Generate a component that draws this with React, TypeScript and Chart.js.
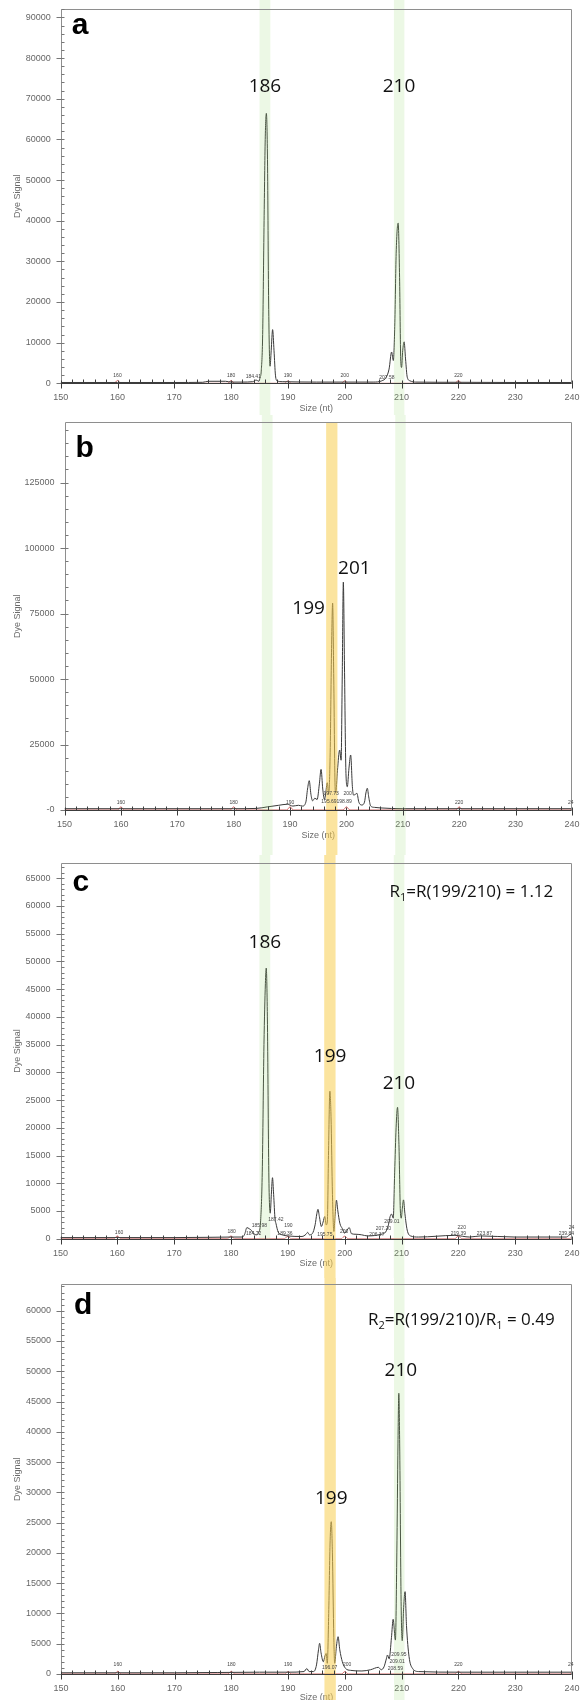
import React, { useEffect, useRef } from 'react';
import { Chart, registerables } from 'chart.js';

Chart.register(...registerables);

// ---------------- shared axis values ----------------
const sizeMin = 150;
const sizeMax = 240;
const sizeLabelStep = 10;
const sizeMinorStep = 2;

// highlighted size windows (nt)
const greenBand1 = [185.0, 186.9];
const yellowBand = [196.4, 198.4];
const greenBand2 = [208.65, 210.5];

// size-standard (red) trace positions
const stdSize = [150, 159.4, 160, 160.6, 179.4, 180, 180.6, 189.4, 190, 190.6, 199.4, 200, 200.6, 219.4, 220, 220.6, 239.5, 240];

// ---------------- panel a ----------------
const aSize = [150, 160, 170, 175, 176, 179, 180, 182, 183.8, 184.4, 184.9, 185.1, 185.3, 185.55, 185.8, 186.0, 186.2, 186.4, 186.6, 186.85, 187.05, 187.3, 187.55, 187.8, 188.1, 189, 195, 200, 205, 206.5, 207.3, 207.8, 208.25, 208.55, 208.8, 209.05, 209.4, 209.65, 209.85, 210.0, 210.2, 210.45, 210.7, 211.0, 211.5, 212.5, 220, 230, 240];
const aSignal = [200, 200, 200, 250, 500, 500, 300, 300, 400, 800, 500, 1500, 3000, 12000, 40000, 60000, 66400, 55000, 20000, 4200, 8000, 13200, 8000, 2000, 600, 400, 300, 300, 300, 600, 1500, 3500, 7700, 5600, 14000, 32000, 39400, 26000, 6000, 3900, 8000, 10200, 6000, 1500, 600, 300, 250, 200, 200];
const aStdSignal = [0, 0, 700, 0, 0, 700, 0, 0, 600, 0, 0, 600, 0, 0, 700, 0, 0, 300];
const aYMax = 92000;
const aYStep = 10000;
const aYMinor = 2000;
const aPeakText = ['186', '210'];
const aPeakSize = [185.95, 209.55];
const aPeakSignal = [73000, 73000];
const aTinyText = ['160', '180', '184.41', '190', '200', '207.58', '220'];
const aTinySize = [160, 180, 183.9, 190, 200, 207.4, 220];
const aTinySignal = [1800, 1800, 1600, 1800, 1800, 1300, 1800];

// ---------------- panel b ----------------
const bSize = [150, 160, 180, 184, 186, 188, 189.5, 190.5, 191.5, 192.2, 192.8, 193.1, 193.4, 193.7, 194.0, 194.4, 194.8, 195.2, 195.5, 195.8, 196.1, 196.3, 196.6, 196.85, 197.1, 197.35, 197.55, 197.75, 198.0, 198.1, 198.4, 198.8, 199.05, 199.25, 199.45, 199.65, 199.9, 200.15, 200.45, 200.75, 201.05, 201.25, 201.6, 201.85, 202.2, 202.7, 203.2, 203.45, 203.7, 203.95, 204.3, 205, 206, 210, 220, 240];
const bSignal = [500, 500, 500, 600, 1200, 1800, 2200, 1500, 1800, 1500, 3000, 8000, 11200, 6000, 3500, 4500, 4000, 10000, 15500, 8000, 4000, 6000, 10400, 6000, 20000, 60000, 79000, 50000, 8000, 6400, 15000, 22900, 19000, 50000, 87000, 55000, 15000, 8900, 16000, 21000, 9000, 5700, 6000, 6400, 3000, 1900, 3000, 6500, 8300, 5000, 1500, 1000, 800, 500, 500, 500];
const bStdSignal = [0, 0, 1200, 0, 0, 1200, 0, 0, 1200, 0, 0, 1200, 0, 0, 1200, 0, 0, 600];
const bYMax = 148000;
const bYStep = 25000;
const bYMinor = 5000;
const bPeakText = ['199', '201'];
const bPeakSize = [193.3, 201.4];
const bPeakSignal = [76800, 92000];
const bTinyText = ['160', '180', '190', '197.73', '200', '195.69', '198.89', '220', '24'];
const bTinySize = [160, 180, 190, 197.3, 200.2, 196.9, 199.6, 220, 239.8];
const bTinySignal = [3000, 3000, 3000, 6100, 6100, 3200, 3200, 3000, 3000];

// ---------------- panel c ----------------
const cSize = [150, 160, 170, 176, 180, 182, 182.4, 182.8, 183.2, 183.6, 184.0, 184.5, 184.9, 185.2, 185.5, 185.8, 186.05, 186.2, 186.4, 186.65, 186.9, 187.1, 187.3, 187.5, 187.75, 187.9, 188.3, 189, 190, 192.5, 193.2, 193.5, 193.8, 194.3, 194.8, 195.1, 195.3, 195.55, 195.9, 196.2, 196.5, 196.75, 196.95, 197.15, 197.4, 197.6, 197.85, 198.1, 198.3, 198.55, 198.8, 199.15, 199.6, 200.0, 200.8, 201.2, 202, 203, 204, 206.4, 207.2, 207.7, 208.0, 208.25, 208.55, 208.8, 209.05, 209.3, 209.55, 209.8, 209.95, 210.15, 210.35, 210.6, 211.0, 211.6, 213, 219.4, 222, 223.9, 230, 239, 239.8, 240];
const cSignal = [200, 200, 200, 250, 300, 300, 800, 2000, 1800, 1500, 900, 700, 1200, 3000, 12000, 35000, 46000, 48800, 40000, 12000, 4600, 8000, 11000, 8000, 3500, 2800, 1200, 700, 500, 400, 800, 1150, 700, 900, 2500, 4500, 5300, 4000, 2200, 3000, 4000, 2500, 3000, 15000, 26600, 22000, 8000, 1300, 4000, 6950, 5000, 2800, 1800, 1000, 2000, 900, 800, 700, 500, 800, 1200, 2500, 4000, 4450, 3700, 12000, 20000, 23700, 17000, 5000, 3700, 5500, 7000, 4500, 1560, 500, 300, 600, 300, 500, 300, 300, 800, 500];
const cStdSignal = [0, 0, 500, 0, 0, 500, 0, 0, 450, 0, 0, 450, 0, 0, 500, 0, 0, 300];
const cYMax = 67700;
const cYStep = 5000;
const cYMinor = 1000;
const cPeakText = ['186', '199', '210'];
const cPeakSize = [185.95, 197.43, 209.55];
const cPeakSignal = [53400, 32770, 27950];
const cTinyText = ['160', '180', '184.72', '185.98', '187.42', '189.36', '190', '195.75', '200', '206.37', '207.20', '209.01', '219.39', '220', '223.87', '239.84', '24'];
const cTinySize = [160.3, 180.1, 184.0, 185.0, 187.9, 189.5, 190.1, 196.5, 199.9, 205.65, 206.8, 208.3, 220.0, 220.6, 224.6, 239.0, 239.9];
const cTinySignal = [1150, 1260, 1000, 2290, 3500, 970, 2290, 700, 1260, 700, 1900, 3070, 850, 2050, 850, 850, 2050];

// ---------------- panel d ----------------
const dSize = [150, 170, 185, 190, 192.8, 193.3, 193.7, 194.5, 195.0, 195.35, 195.55, 195.8, 196.2, 196.5, 196.7, 196.9, 197.15, 197.4, 197.6, 197.8, 198.05, 198.2, 198.5, 198.8, 199.1, 199.55, 200.1, 201, 203, 204.5, 205.9, 206.4, 206.9, 207.3, 207.5, 207.8, 208.2, 208.5, 208.9, 209.15, 209.35, 209.5, 209.65, 209.9, 210.1, 210.35, 210.6, 210.85, 211.3, 211.9, 213, 220, 230, 240];
const dSignal = [200, 200, 300, 300, 400, 900, 400, 400, 1500, 4000, 5070, 3500, 2030, 3000, 3400, 1770, 10000, 22000, 25150, 20000, 6000, 1770, 4500, 6160, 4000, 2030, 940, 600, 500, 700, 1100, 700, 1200, 2500, 3140, 2500, 6000, 9030, 5600, 20000, 38000, 46360, 38000, 12000, 5500, 11000, 13600, 8000, 2860, 940, 400, 300, 300, 300];
const dStdSignal = [0, 0, 450, 0, 0, 450, 0, 0, 400, 0, 0, 400, 0, 0, 450, 0, 0, 300];
const dYMax = 64360;
const dYStep = 5000;
const dYMinor = 1000;
const dPeakText = ['199', '210'];
const dPeakSize = [197.6, 209.85];
const dPeakSignal = [28900, 50120];
const dTinyText = ['160', '180', '190', '196.07', '200', '208.59', '209.01', '209.95', '220', '24'];
const dTinySize = [160, 180, 190, 197.3, 200.4, 208.9, 209.2, 209.5, 220, 239.8];
const dTinySignal = [1490, 1490, 1490, 1040, 1490, 940, 2030, 3140, 1490, 1490];

// ratio annotations
const cFormulaParts = ['R', '1', '=R(199/210) = 1.12'];
const cFormulaSub = [false, true, false];
const cFormulaAt = [222.3, 62760];
const dFormulaParts = ['R', '2', '=R(199/210)/R', '1', ' = 0.49'];
const dFormulaSub = [false, true, false, true, false];
const dFormulaAt = [220.5, 58630];

// ---------------- styling / layout ----------------
const GREEN = 'rgba(150,215,110,0.18)';
const YELLOW = 'rgba(247,205,80,0.55)';
const FONT = '"Liberation Sans", Arial, sans-serif';
const LABEL_FONT = '"Open Sans", "Noto Sans", sans-serif';

type Band = { range: number[]; color: string; from: 'top' | 'area'; to: 'bottom' | 'axis' };

type Panel = {
  letter: string;
  size: number[];
  signal: number[];
  stdSignal: number[];
  yMax: number;
  yStep: number;
  yMinor: number;
  zeroLabel: string;
  peakText: string[];
  peakSize: number[];
  peakSignal: number[];
  tinyText: string[];
  tinySize: number[];
  tinySignal: number[];
  formulaParts?: string[];
  formulaSub?: boolean[];
  formulaAt?: number[];
  bands: Band[];
  top: number;
  height: number;
  left: number;
  right: number;
  areaTop: number;
  areaBottom: number;
  letterDx: number;
  letterDy: number;
  xTitlePad: number;
};

const panels: Panel[] = [
  {
    letter: 'a', size: aSize, signal: aSignal, stdSignal: aStdSignal, yMax: aYMax, yStep: aYStep, yMinor: aYMinor, zeroLabel: '0',
    peakText: aPeakText, peakSize: aPeakSize, peakSignal: aPeakSignal,
    tinyText: aTinyText, tinySize: aTinySize, tinySignal: aTinySignal,
    bands: [
      { range: greenBand1, color: GREEN, from: 'top', to: 'bottom' },
      { range: greenBand2, color: GREEN, from: 'top', to: 'bottom' },
    ],
    top: 0, height: 415, left: 60.7, right: 572, areaTop: 9.3, areaBottom: 383.3, letterDx: 11, letterDy: 25, xTitlePad: 1.1,
  },
  {
    letter: 'b', size: bSize, signal: bSignal, stdSignal: bStdSignal, yMax: bYMax, yStep: bYStep, yMinor: bYMinor, zeroLabel: '-0',
    peakText: bPeakText, peakSize: bPeakSize, peakSignal: bPeakSignal,
    tinyText: bTinyText, tinySize: bTinySize, tinySignal: bTinySignal,
    bands: [
      { range: greenBand1, color: GREEN, from: 'top', to: 'bottom' },
      { range: yellowBand, color: YELLOW, from: 'area', to: 'bottom' },
      { range: greenBand2, color: GREEN, from: 'top', to: 'bottom' },
    ],
    top: 415, height: 440, left: 64.5, right: 572, areaTop: 7.3, areaBottom: 395, letterDx: 11, letterDy: 35, xTitlePad: 13.9,
  },
  {
    letter: 'c', size: cSize, signal: cSignal, stdSignal: cStdSignal, yMax: cYMax, yStep: cYStep, yMinor: cYMinor, zeroLabel: '0',
    peakText: cPeakText, peakSize: cPeakSize, peakSignal: cPeakSignal,
    tinyText: cTinyText, tinySize: cTinySize, tinySignal: cTinySignal,
    formulaParts: cFormulaParts, formulaSub: cFormulaSub, formulaAt: cFormulaAt,
    bands: [
      { range: greenBand1, color: GREEN, from: 'top', to: 'axis' },
      { range: yellowBand, color: YELLOW, from: 'top', to: 'bottom' },
      { range: greenBand2, color: GREEN, from: 'top', to: 'bottom' },
    ],
    top: 855, height: 423, left: 60.5, right: 572, areaTop: 8.3, areaBottom: 383.7, letterDx: 12, letterDy: 28, xTitlePad: 8.6,
  },
  {
    letter: 'd', size: dSize, signal: dSignal, stdSignal: dStdSignal, yMax: dYMax, yStep: dYStep, yMinor: dYMinor, zeroLabel: '0',
    peakText: dPeakText, peakSize: dPeakSize, peakSignal: dPeakSignal,
    tinyText: dTinyText, tinySize: dTinySize, tinySignal: dTinySignal,
    formulaParts: dFormulaParts, formulaSub: dFormulaSub, formulaAt: dFormulaAt,
    bands: [
      { range: yellowBand, color: YELLOW, from: 'top', to: 'bottom' },
      { range: greenBand2, color: GREEN, from: 'top', to: 'bottom' },
    ],
    top: 1278, height: 422, left: 61, right: 572, areaTop: 6.3, areaBottom: 396, letterDx: 13, letterDy: 30, xTitlePad: -3.4,
  },
];

function drawRich(ctx: CanvasRenderingContext2D, parts: string[], subs: boolean[], cx: number, cy: number, size: number) {
  const base = `${size}px ${LABEL_FONT}`;
  const sub = `${Math.round(size * 0.62)}px ${LABEL_FONT}`;
  const widths = parts.map((t, i) => {
    ctx.font = subs[i] ? sub : base;
    return ctx.measureText(t).width;
  });
  const total = widths.reduce((s, w) => s + w, 0);
  let x = cx - total / 2;
  const baseline = cy + size * 0.36;
  ctx.textAlign = 'left';
  ctx.textBaseline = 'alphabetic';
  parts.forEach((t, i) => {
    ctx.font = subs[i] ? sub : base;
    ctx.fillText(t, x, subs[i] ? baseline + size * 0.22 : baseline);
    x += widths[i];
  });
}

function makeDecor(p: Panel) {
  return {
    id: 'decor_' + p.letter,
    afterDatasetsDraw(chart: any) {
      const ctx: CanvasRenderingContext2D = chart.ctx;
      const xs = chart.scales.x;
      const area = chart.chartArea;
      ctx.save();
      for (const b of p.bands) {
        const x0 = xs.getPixelForValue(b.range[0]);
        const x1 = xs.getPixelForValue(b.range[1]);
        const y0 = b.from === 'area' ? area.top : 0;
        const y1 = b.to === 'axis' ? area.bottom : chart.height;
        ctx.fillStyle = b.color;
        ctx.fillRect(x0, y0, x1 - x0, y1 - y0);
      }
      ctx.restore();
    },
    afterDraw(chart: any) {
      const ctx: CanvasRenderingContext2D = chart.ctx;
      const xs = chart.scales.x;
      const ys = chart.scales.y;
      const { left, right, top, bottom } = chart.chartArea;
      const L = Math.round(left) + 0.5;
      const R = Math.round(right) - 0.5;
      const T = Math.round(top) + 0.5;
      const B = Math.round(bottom) + 0.5;
      ctx.save();
      // frame
      ctx.lineWidth = 1;
      ctx.strokeStyle = '#8e8e8e';
      ctx.beginPath();
      ctx.moveTo(L, T); ctx.lineTo(R, T); ctx.lineTo(R, B);
      ctx.moveTo(L, T); ctx.lineTo(L, B);
      ctx.stroke();
      // y ticks
      ctx.strokeStyle = '#777';
      ctx.beginPath();
      for (let v = 0; v <= p.yMax + 1; v += p.yMinor) {
        const y = Math.round(ys.getPixelForValue(v)) + 0.5;
        if (v % p.yStep === 0) { ctx.moveTo(L - 5, y); ctx.lineTo(L + 3, y); }
        else { ctx.moveTo(L, y); ctx.lineTo(L + 3, y); }
      }
      ctx.stroke();
      // x axis line and ticks
      ctx.strokeStyle = '#3c3c3c';
      ctx.beginPath();
      ctx.moveTo(L, B); ctx.lineTo(R, B);
      for (let v = sizeMin; v <= sizeMax; v += sizeMinorStep) {
        const x = Math.round(xs.getPixelForValue(v)) + 0.5;
        if (v % sizeLabelStep === 0) { ctx.moveTo(x, B - 3); ctx.lineTo(x, B + 5); }
        else { ctx.moveTo(x, B); ctx.lineTo(x, B - 4); }
      }
      ctx.stroke();
      // tiny peak-size labels
      ctx.fillStyle = '#444';
      ctx.font = `5px ${FONT}`;
      ctx.textAlign = 'center';
      ctx.textBaseline = 'middle';
      p.tinyText.forEach((t, i) => {
        ctx.fillText(t, xs.getPixelForValue(p.tinySize[i]), ys.getPixelForValue(p.tinySignal[i]));
      });
      // peak labels
      ctx.fillStyle = '#111';
      ctx.font = `19px ${LABEL_FONT}`;
      p.peakText.forEach((t, i) => {
        ctx.fillText(t, xs.getPixelForValue(p.peakSize[i]), ys.getPixelForValue(p.peakSignal[i]));
      });
      // ratio formula
      if (p.formulaParts && p.formulaSub && p.formulaAt) {
        drawRich(ctx, p.formulaParts, p.formulaSub, xs.getPixelForValue(p.formulaAt[0]), ys.getPixelForValue(p.formulaAt[1]), 17);
      }
      // panel letter
      ctx.fillStyle = '#000';
      ctx.font = `bold 30px ${FONT}`;
      ctx.textAlign = 'left';
      ctx.textBaseline = 'alphabetic';
      ctx.fillText(p.letter, left + p.letterDx, top + p.letterDy);
      ctx.restore();
    },
  };
}

function buildChart(canvas: HTMLCanvasElement, p: Panel) {
  return new Chart(canvas, {
    type: 'line',
    data: {
      datasets: [
        {
          data: p.size.map((x, i) => ({ x, y: p.signal[i] })),
          borderColor: '#3a3a3a',
          borderWidth: 1,
          pointRadius: 0,
          cubicInterpolationMode: 'monotone',
        },
        {
          data: stdSize.map((x, i) => ({ x, y: p.stdSignal[i] })),
          borderColor: 'rgba(200,70,70,0.85)',
          borderWidth: 1,
          pointRadius: 0,
          cubicInterpolationMode: 'monotone',
        },
      ],
    },
    options: {
      animation: false,
      responsive: false,
      devicePixelRatio: 1,
      events: [],
      layout: { padding: { top: p.areaTop, right: 580 - p.right, bottom: 0, left: 0 } },
      plugins: { legend: { display: false }, tooltip: { enabled: false } },
      scales: {
        x: {
          type: 'linear',
          min: sizeMin,
          max: sizeMax,
          grid: { display: false, drawTicks: false },
          border: { display: false },
          ticks: {
            stepSize: sizeLabelStep,
            padding: 9,
            color: '#666',
            font: { family: FONT, size: 9 },
            maxRotation: 0,
            autoSkip: false,
            callback: (v: any) => String(v),
          },
          title: {
            display: true,
            text: 'Size (nt)',
            color: '#6a6a6a',
            font: { family: FONT, size: 9 },
            padding: { top: 0, bottom: p.xTitlePad },
          },
          afterFit: (s: any) => {
            s.height = p.height - p.areaBottom;
            s.paddingLeft = 0;
            s.paddingRight = 0;
          },
        },
        y: {
          type: 'linear',
          min: 0,
          max: p.yMax,
          grid: { display: false, drawTicks: false },
          border: { display: false },
          ticks: {
            padding: 10,
            color: '#666',
            font: { family: FONT, size: 9 },
            autoSkip: false,
            callback: (v: any) => (v === 0 ? p.zeroLabel : String(v)),
          },
          afterBuildTicks: (s: any) => {
            const t: { value: number }[] = [];
            for (let v = 0; v <= p.yMax; v += p.yStep) t.push({ value: v });
            s.ticks = t;
          },
          title: {
            display: true,
            text: 'Dye Signal',
            color: '#6a6a6a',
            font: { family: FONT, size: 9 },
            padding: { top: 12.6, bottom: 0 },
          },
          afterFit: (s: any) => {
            s.width = p.left;
            s.paddingTop = 0;
            s.paddingBottom = 0;
          },
        },
      },
    } as any,
    plugins: [makeDecor(p)],
  });
}

function PanelCanvas({ p }: { p: Panel }) {
  const ref = useRef<HTMLCanvasElement | null>(null);
  useEffect(() => {
    if (!ref.current) return;
    const chart = buildChart(ref.current, p);
    return () => chart.destroy();
  }, [p]);
  return (
    <canvas
      ref={ref}
      width={580}
      height={p.height}
      style={{ position: 'absolute', left: 0, top: p.top, width: 580, height: p.height, display: 'block' }}
    />
  );
}

export default function App() {
  return (
    <div style={{ position: 'absolute', left: 0, top: 0, width: 580, height: 1700, background: '#fff', overflow: 'hidden' }}>
      {panels.map((p) => (
        <PanelCanvas key={p.letter} p={p} />
      ))}
    </div>
  );
}
